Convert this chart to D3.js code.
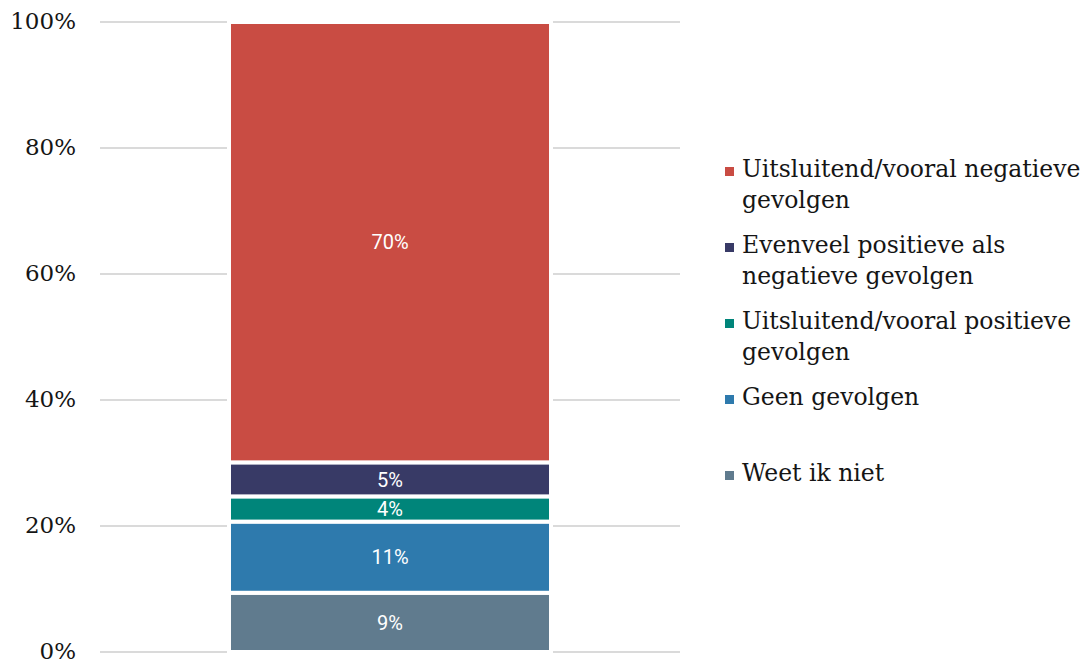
<!DOCTYPE html>
<html>
<head>
<meta charset="utf-8">
<script src="https://cdn.jsdelivr.net/npm/d3@7"></script>
<style>
    body { margin: 0; background: #fff; }
    svg { display: block; }
</style>
</head>
<body>
<svg width="1082" height="659"></svg>
<script>
// Data, bottom to top
var categories = [
    "Weet ik niet",
    "Geen gevolgen",
    "Uitsluitend/vooral positieve gevolgen",
    "Evenveel positieve als negatieve gevolgen",
    "Uitsluitend/vooral negatieve gevolgen"
];
var values = [9.4, 11.3, 4.0, 5.4, 69.9];
var valueLabels = ["9%", "11%", "4%", "5%", "70%"];
var colors = ["#607b8e", "#2e7aad", "#00857a", "#383a66", "#c94c43"];
var yTicks = [0, 20, 40, 60, 80, 100];

// Legend order (top to bottom) and wrapped lines
var legendOrder = [4, 3, 2, 1, 0];
var legendLines = [
    ["Weet ik niet"],
    ["Geen gevolgen"],
    ["Uitsluitend/vooral positieve", "gevolgen"],
    ["Evenveel positieve als", "negatieve gevolgen"],
    ["Uitsluitend/vooral negatieve", "gevolgen"]
];

var svg = d3.select("svg");
var serif = "'DejaVu Serif', 'Liberation Serif', serif";

var xScale = d3.scaleBand().domain(["all"]).range([100, 680]).padding(0.286);
var yScale = d3.scaleLinear().domain([0, 100]).range([652, 22]);

// Gridlines
svg.append("g")
    .selectAll("line")
    .data(yTicks)
    .join("line")
    .attr("x1", 100)
    .attr("x2", 680)
    .attr("y1", d => yScale(d))
    .attr("y2", d => yScale(d))
    .attr("stroke", "#dadada")
    .attr("stroke-width", 2);

// Y axis labels
svg.append("g")
    .selectAll("text")
    .data(yTicks)
    .join("text")
    .attr("x", 76)
    .attr("y", d => yScale(d))
    .attr("dy", "0.3em")
    .attr("text-anchor", "end")
    .style("font-family", serif)
    .style("font-size", "23px")
    .style("fill", "#151515")
    .text(d => d + "%");

// Stack the segments
var stacked = [];
var running = 0;
values.forEach(function (v, i) {
    stacked.push({ y0: running, y1: running + v, color: colors[i], label: valueLabels[i] });
    running += v;
});

svg.append("g")
    .selectAll("rect")
    .data(stacked)
    .join("rect")
    .attr("x", xScale("all"))
    .attr("width", xScale.bandwidth())
    .attr("y", d => yScale(d.y1))
    .attr("height", d => yScale(d.y0) - yScale(d.y1))
    .attr("fill", d => d.color)
    .attr("stroke", "#fff")
    .attr("stroke-width", 4);

svg.append("g")
    .selectAll("text")
    .data(stacked)
    .join("text")
    .attr("x", xScale("all") + xScale.bandwidth() / 2)
    .attr("y", d => yScale((d.y0 + d.y1) / 2))
    .attr("dy", "0.36em")
    .attr("text-anchor", "middle")
    .style("font-family", "Roboto, 'Open Sans', sans-serif")
    .style("font-size", "20px")
    .style("fill", "#fff")
    .text(d => d.label);

// Legend
var legend = svg.append("g")
    .selectAll("g")
    .data(legendOrder)
    .join("g")
    .attr("transform", (d, i) => "translate(725," + (177 + i * 76) + ")");

legend.append("rect")
    .attr("x", 0)
    .attr("y", -10)
    .attr("width", 9)
    .attr("height", 9)
    .attr("fill", d => colors[d]);

legend.append("text")
    .style("font-family", serif)
    .style("font-size", "23.5px")
    .style("fill", "#151515")
    .selectAll("tspan")
    .data(d => legendLines[d])
    .join("tspan")
    .attr("x", 17)
    .attr("y", (d, i) => i * 31)
    .text(d => d);
</script>
</body>
</html>
